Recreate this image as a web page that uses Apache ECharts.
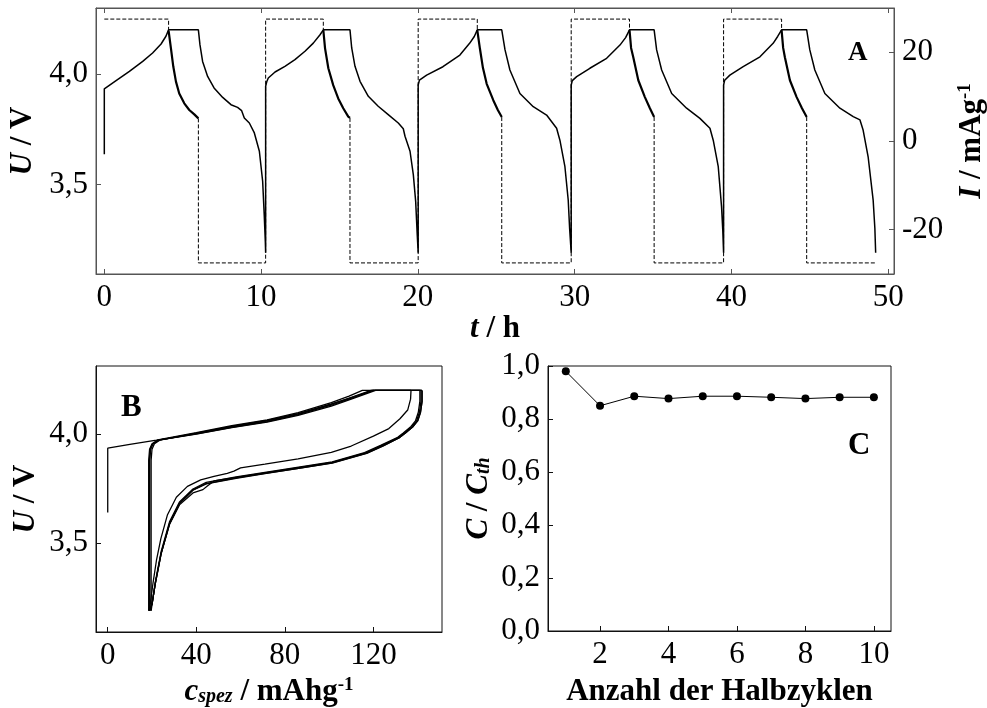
<!DOCTYPE html>
<html>
<head>
<meta charset="utf-8">
<script src="https://cdn.jsdelivr.net/npm/echarts@6/dist/echarts.min.js"></script>
<style>
  html, body { margin: 0; padding: 0; background: #fff; }
  #chart { width: 987px; height: 708px; }
</style>
</head>
<body>
<div id="chart"></div>
<script>
// ---------- A: Zellspannung und Strom über der Zeit ----------
// Spannung U / V über t / h (5 Lade-/Entladezyklen)
const zeitU = [
  0, 0, 0.75, 1.6, 2.45, 3.08, 3.62, 3.93, 4.1,
  6.0, 6.1, 6.27, 6.59, 7.0, 7.55, 8.08, 8.5, 8.76, 8.93, 9.25, 9.57, 9.89, 10.1, 10.2, 10.27, 10.29,
  10.29, 10.36, 10.46, 10.89, 11.52, 12.16, 12.8, 13.33, 13.76, 13.97,
  15.67, 15.78, 15.99, 16.31, 16.84, 17.47, 18.11, 18.75, 19.07, 19.18, 19.5, 19.71, 19.86, 19.96, 20.02,
  20.02, 20.1, 20.56, 21.6, 22.68, 23.3, 23.6, 23.79,
  25.35, 25.56, 25.87, 26.51, 27.36, 28.21, 28.85, 29.06, 29.38, 29.59, 29.68, 29.78,
  29.78, 29.85, 30.13, 30.97, 32.04, 32.89, 33.25, 33.5,
  35.07, 35.23, 35.55, 36.19, 37.14, 37.99, 38.63, 38.84, 39.16, 39.37, 39.45, 39.5,
  39.5, 39.57, 39.9, 40.75, 41.82, 42.66, 42.95, 43.2,
  44.8, 45.0, 45.32, 45.96, 46.92, 47.77, 48.2, 48.4, 48.72, 49.04, 49.15, 49.2
];
const spannungU = [
  3.637, 3.933, 3.970, 4.012, 4.057, 4.095, 4.136, 4.171, 4.2,
  4.2, 4.133, 4.057, 3.989, 3.937, 3.894, 3.861, 3.849, 3.834, 3.801, 3.778, 3.733, 3.65, 3.514, 3.362, 3.24, 3.19,
  3.944, 3.965, 3.982, 4.009, 4.035, 4.065, 4.103, 4.14, 4.178, 4.2,
  4.2, 4.118, 4.035, 3.967, 3.899, 3.854, 3.816, 3.778, 3.752, 3.718, 3.65, 3.544, 3.423, 3.272, 3.19,
  3.95, 3.972, 3.995, 4.033, 4.086, 4.139, 4.17, 4.2,
  4.2, 4.109, 4.018, 3.912, 3.852, 3.814, 3.754, 3.7, 3.58, 3.429, 3.3, 3.19,
  3.95, 3.97, 3.988, 4.026, 4.071, 4.131, 4.165, 4.2,
  4.2, 4.109, 4.018, 3.912, 3.845, 3.799, 3.754, 3.7, 3.58, 3.399, 3.29, 3.19,
  3.95, 3.972, 3.995, 4.033, 4.078, 4.139, 4.17, 4.2,
  4.2, 4.109, 4.018, 3.912, 3.845, 3.807, 3.792, 3.746, 3.625, 3.429, 3.3, 3.19
];

// Strom I / mAg^-1 in den galvanostatischen Abschnitten (null trennt Abschnitte)
const zeitIgalv = [
  0, 4.1, 4.1, null,
  6.0, 6.0, 10.29, 10.29, 13.97, 13.97, null,
  15.67, 15.67, 20.02, 20.02, 23.79, 23.79, null,
  25.35, 25.35, 29.78, 29.78, 33.5, 33.5, null,
  35.07, 35.07, 39.5, 39.5, 43.2, 43.2, null,
  44.8, 44.8, 49.2
];
const stromIgalv = [
  27.5, 27.5, 24.9, null,
  5.1, -27.5, -27.5, 27.5, 27.5, 25.0, null,
  5.2, -27.5, -27.5, 27.5, 27.5, 25.0, null,
  5.4, -27.5, -27.5, 27.5, 27.5, 25.0, null,
  5.4, -27.5, -27.5, 27.5, 27.5, 25.0, null,
  5.4, -27.5, -27.5
];

// Stromabfall in den potentiostatischen Phasen bei 4,2 V
const zeitIpot = [
  4.1, 4.25, 4.4, 4.57, 4.78, 5.1, 5.42, 5.74, 6.0, null,
  13.97, 14.08, 14.29, 14.6, 14.92, 15.24, 15.56, 15.67, null,
  23.79, 23.96, 24.15, 24.39, 24.81, 25.1, 25.35, null,
  33.5, 33.6, 33.74, 34.06, 34.48, 34.8, 35.07, null,
  43.2, 43.3, 43.41, 43.73, 44.16, 44.5, 44.8
];
const stromIpot = [
  24.9, 20.9, 16.8, 13.4, 10.7, 8.5, 7.0, 6.0, 5.1, null,
  25.0, 20.9, 16.4, 12.6, 9.6, 7.4, 5.5, 5.2, null,
  25.0, 20.8, 16.5, 12.9, 9.2, 7.0, 5.4, null,
  25.0, 21.0, 18.9, 13.7, 9.9, 7.4, 5.4, null,
  25.0, 21.0, 18.9, 13.7, 9.9, 7.4, 5.4
];

// ---------- B: Spannung über spezifischer Kapazität ----------
const ladung1C = [0, 0, 10, 22, 40, 56, 72, 86, 101, 109, 115, 137];
const ladung1U = [3.64, 3.935, 3.953, 3.972, 4.006, 4.038, 4.065, 4.098, 4.144, 4.174, 4.2, 4.2];
const ladung2C = [19.0, 19.0, 19.4, 20.5, 23, 40, 56, 72, 86, 101, 110, 119, 141.5];
const ladung2U = [3.19, 3.88, 3.93, 3.955, 3.972, 4.003, 4.033, 4.06, 4.092, 4.136, 4.168, 4.2, 4.2];
const ladung3C = [18.5, 18.5, 18.9, 20.0, 22.6, 40, 56, 72, 86, 101, 110, 120, 142];
const ladung3U = [3.19, 3.88, 3.93, 3.955, 3.972, 4.001, 4.031, 4.057, 4.089, 4.132, 4.163, 4.2, 4.2];
const ladung4C = [19.6, 19.6, 20.0, 21.1, 23.5, 40, 56, 72, 86, 101, 110, 119.5, 141];
const ladung4U = [3.19, 3.88, 3.93, 3.955, 3.972, 4.004, 4.035, 4.062, 4.094, 4.138, 4.166, 4.2, 4.2];
const ladung5C = [18.8, 18.8, 19.2, 20.3, 22.8, 40, 56, 72, 86, 101, 110, 121, 142];
const ladung5U = [3.19, 3.88, 3.93, 3.955, 3.972, 4.000, 4.029, 4.055, 4.086, 4.128, 4.16, 4.2, 4.2];

const entladung1C = [137, 136.8, 135.5, 132, 127, 120, 110, 101, 86, 71, 60, 57, 54, 48, 42, 36, 31, 27, 24, 22, 20.5, 19.2, 18.5];
const entladung1U = [4.2, 4.16, 4.11, 4.07, 4.025, 3.99, 3.945, 3.916, 3.886, 3.862, 3.845, 3.83, 3.82, 3.806, 3.79, 3.76, 3.71, 3.63, 3.52, 3.42, 3.32, 3.22, 3.19];
const entladung2C = [141.5, 141.5, 140.8, 139.5, 137.5, 134, 131.5, 124, 116.4, 101.4, 86.2, 71, 58, 48, 45, 43, 38.5, 32.4, 27.9, 24.1, 21.5, 20, 19.0];
const entladung2U = [4.2, 4.15, 4.1, 4.06, 4.035, 4.005, 3.985, 3.948, 3.913, 3.87, 3.846, 3.822, 3.801, 3.785, 3.762, 3.745, 3.73, 3.675, 3.585, 3.45, 3.315, 3.22, 3.19];
const entladung3C = [142, 142, 141.3, 140, 138, 134.5, 132, 124.5, 117, 101.4, 86.2, 71, 58, 44.5, 38.5, 32.4, 27.9, 24.1, 21.5, 20, 18.8];
const entladung3U = [4.2, 4.15, 4.1, 4.06, 4.035, 4.005, 3.985, 3.947, 3.912, 3.868, 3.843, 3.82, 3.799, 3.773, 3.744, 3.683, 3.59, 3.452, 3.316, 3.22, 3.19];
const entladung4C = [141, 141, 140.3, 139, 137, 133.5, 131, 123.5, 116, 101.4, 86.2, 71, 58, 44.5, 38.5, 32.4, 27.9, 24.1, 21.5, 20.2, 19.6];
const entladung4U = [4.2, 4.15, 4.1, 4.06, 4.035, 4.005, 3.985, 3.949, 3.915, 3.872, 3.848, 3.824, 3.803, 3.778, 3.748, 3.688, 3.597, 3.46, 3.322, 3.23, 3.19];
const entladung5C = [142, 142, 141.3, 140, 138, 134.5, 132, 124.5, 117, 101.4, 86.2, 71, 58, 44.5, 38.5, 32.4, 27.9, 24.1, 21.5, 20, 18.9];
const entladung5U = [4.2, 4.15, 4.1, 4.06, 4.035, 4.005, 3.985, 3.946, 3.911, 3.867, 3.842, 3.818, 3.797, 3.771, 3.742, 3.68, 3.587, 3.45, 3.314, 3.22, 3.19];

// ---------- C: relative Kapazität je Halbzyklus ----------
const halbzyklen = [1, 2, 3, 4, 5, 6, 7, 8, 9, 10];
const kapazitaetRel = [0.98, 0.85, 0.886, 0.877, 0.886, 0.886, 0.882, 0.877, 0.882, 0.882];

// Achsenbeschriftungen
const tTicks = [0, 10, 20, 30, 40, 50];
const uTicks = [3.5, 4.0];
const iTicks = [-20, 0, 20];
const cTicks = [0, 40, 80, 120];
const nTicks = [2, 4, 6, 8, 10];

// ---------- Hilfsfunktionen ----------
const zip = (xs, ys) => xs.map((x, i) => (x === null || ys[i] === null) ? [null, null] : [x, ys[i]]);
const komma = v => v.toFixed(1).replace('.', ',');
const FONT = 'Liberation Serif';

const titleRich = {
  b: { fontFamily: FONT, fontSize: 31, fontWeight: 'bold', color: '#000' },
  i: { fontFamily: FONT, fontSize: 31, fontWeight: 'bold', fontStyle: 'italic', color: '#000' },
  isub: { fontFamily: FONT, fontSize: 20, fontWeight: 'bold', fontStyle: 'italic', color: '#000', verticalAlign: 'bottom', padding: [10, 0, 0, 0] },
  sup: { fontFamily: FONT, fontSize: 19, fontWeight: 'bold', color: '#000', verticalAlign: 'top', padding: [0, 0, 12, 0] }
};

function axis(extra, color, ticks, fmt, hideLabels) {
  const base = {
    axisLine: { show: true, onZero: false, lineStyle: { color: color, width: 1 } },
    axisTick: { show: true, inside: true, length: 5, lineStyle: { color: color, width: 1 } },
    splitLine: { show: false },
    axisLabel: { show: !hideLabels, fontFamily: FONT, fontSize: 31, color: '#000', margin: 8 },
    nameLocation: 'middle',
    nameTextStyle: { rich: titleRich }
  };
  if (ticks) {
    base.axisTick.customValues = ticks;
    base.axisLabel.customValues = ticks;
  }
  if (fmt) base.axisLabel.formatter = fmt;
  return Object.assign(base, extra);
}

const colA = '#555';
const colBC = '#111';

const lineBase = (xi, yi, data, width, type) => ({
  type: 'line', xAxisIndex: xi, yAxisIndex: yi, data: data,
  showSymbol: false, symbol: 'none', connectNulls: false, animation: false,
  lineStyle: { color: '#000', width: width, type: type || 'solid' }
});

const kurvenB = [
  [ladung1C, ladung1U], [ladung2C, ladung2U], [ladung3C, ladung3U], [ladung4C, ladung4U], [ladung5C, ladung5U],
  [entladung1C, entladung1U], [entladung2C, entladung2U], [entladung3C, entladung3U], [entladung4C, entladung4U], [entladung5C, entladung5U]
];

const gridBase = { show: true, borderWidth: 1, backgroundColor: 'transparent', containLabel: false, outerBoundsMode: 'none' };

const option = {
  backgroundColor: '#fff',
  animation: false,
  grid: [
    Object.assign({ left: 96, top: 8, width: 798, height: 266, borderColor: colA }, gridBase),
    Object.assign({ left: 96, top: 366, width: 346, height: 266, borderColor: colBC }, gridBase),
    Object.assign({ left: 548, top: 366, width: 343, height: 265, borderColor: colBC }, gridBase)
  ],
  xAxis: [
    axis({ gridIndex: 0, type: 'value', position: 'bottom', min: -0.53, max: 50.37,
      name: '{i|t}{b| / h}', nameGap: 39 }, colA, tTicks),
    axis({ gridIndex: 0, type: 'value', position: 'top', min: -0.53, max: 50.37 }, colA, tTicks, null, true),
    axis({ gridIndex: 1, type: 'value', position: 'bottom', min: -5.3, max: 151,
      name: '{i|c}{isub|spez}{b| / mAhg}{sup|-1}', nameGap: 44 }, colBC, cTicks),
    axis({ gridIndex: 2, type: 'value', position: 'bottom', min: 0.48, max: 10.5,
      name: '{b|Anzahl der Halbzyklen}', nameGap: 45 }, colBC, nTicks)
  ],
  yAxis: [
    axis({ gridIndex: 0, type: 'value', position: 'left', min: 3.094, max: 4.299,
      name: '{i|U}{b| / V}', nameGap: 55, nameRotate: 90 }, colA, uTicks, komma),
    axis({ gridIndex: 0, type: 'value', position: 'right', min: -30, max: 30,
      name: '{i|I}{b| / mAg}{sup|-1}', nameGap: 62, nameRotate: 90 }, colA, iTicks),
    axis({ gridIndex: 1, type: 'value', position: 'left', min: 3.092, max: 4.312,
      name: '{i|U}{b| / V}', nameGap: 55, nameRotate: 90 }, colBC, uTicks, komma),
    axis({ gridIndex: 2, type: 'value', position: 'left', min: 0, max: 1.0, interval: 0.2,
      name: '{i|C}{b| / }{i|C}{isub|th}', nameGap: 54, nameRotate: 90 }, colBC, null, komma)
  ],
  series: [
    lineBase(0, 1, zip(zeitIgalv, stromIgalv), 1, [4, 2]),
    lineBase(0, 1, zip(zeitIpot, stromIpot), 2.2),
    lineBase(0, 0, zip(zeitU, spannungU), 1.5),
    ...kurvenB.map(([c, u]) => lineBase(2, 2, zip(c, u), 1.3)),
    {
      type: 'line', xAxisIndex: 3, yAxisIndex: 3, animation: false,
      data: zip(halbzyklen, kapazitaetRel),
      symbol: 'circle', symbolSize: 8, showSymbol: true,
      itemStyle: { color: '#000' },
      lineStyle: { color: '#000', width: 1 }
    }
  ],
  graphic: [
    { type: 'text', left: 848, top: 40, style: { text: 'A', font: 'bold 27px "Liberation Serif"', fill: '#000' } },
    { type: 'text', left: 121, top: 392, style: { text: 'B', font: 'bold 31px "Liberation Serif"', fill: '#000' } },
    { type: 'text', left: 848, top: 430, style: { text: 'C', font: 'bold 31px "Liberation Serif"', fill: '#000' } }
  ]
};

const chart = echarts.init(document.getElementById('chart'), null, { renderer: 'canvas' });
chart.setOption(option);
</script>
</body>
</html>
